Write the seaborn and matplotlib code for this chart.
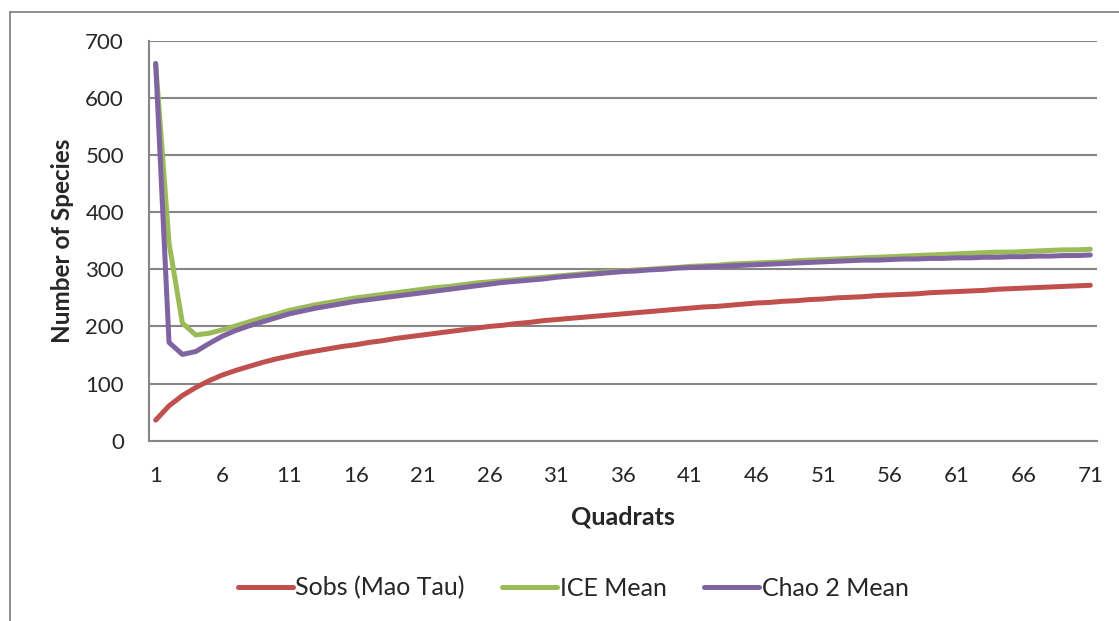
import pandas as pd
import seaborn as sns
import matplotlib.pyplot as plt
from matplotlib.lines import Line2D

# datos
quadrats = list(range(1, 72))

sobs = [36, 61, 79, 93, 105, 115, 123, 130, 137, 143, 148, 153, 157, 161, 165, 168,
        172, 175, 179, 182, 185, 188, 191, 194, 197, 200, 202, 205, 207, 210, 212,
        214, 216, 218, 220, 222, 224, 226, 228, 230, 232, 234, 235, 237, 239, 241,
        242, 244, 245, 247, 248, 250, 251, 252, 254, 255, 256, 257, 259, 260, 261,
        262, 263, 265, 266, 267, 268, 269, 270, 271, 272]

ice = [660, 346, 206, 185, 188, 194, 201, 208, 215, 221, 228, 233, 238, 242, 246, 250,
       253, 256, 259, 262, 265, 268, 270, 273, 276, 278, 280, 282, 284, 286, 288,
       290, 292, 294, 296, 297, 299, 300, 302, 303, 305, 306, 307, 309, 310, 311,
       312, 313, 315, 316, 317, 318, 319, 320, 321, 322, 323, 324, 325, 326, 327,
       328, 329, 330, 330, 331, 332, 333, 334, 334, 335]

chao = [660, 172, 151, 156, 170, 183, 193, 201, 208, 215, 222, 227, 232, 236, 240, 244,
        247, 250, 253, 256, 259, 262, 265, 268, 271, 274, 277, 279, 281, 283, 286,
        288, 290, 292, 294, 296, 297, 299, 300, 302, 303, 304, 305, 306, 307, 308,
        309, 310, 311, 312, 313, 314, 315, 316, 316, 317, 318, 318, 319, 319, 320,
        320, 321, 321, 322, 322, 323, 323, 324, 324, 325]

series = ['Sobs (Mao Tau)', 'ICE Mean', 'Chao 2 Mean']
colores = ['#C0504D', '#9BBB59', '#8064A2']
xticks = list(range(1, 72, 5))
yticks = list(range(0, 701, 100))

df = pd.DataFrame({
    'Quadrats': quadrats * 3,
    'Species': sobs + ice + chao,
    'Serie': [series[0]] * 71 + [series[1]] * 71 + [series[2]] * 71,
})

sns.set_style('white')
plt.rcParams['font.family'] = ['Lato', 'DejaVu Sans']

fig = plt.figure(figsize=(11.19, 6.21), dpi=100)
ax = fig.add_axes([149 / 1119, 1 - 440.7 / 621, (1097 - 149) / 1119, 400 / 621])

sns.lineplot(data=df, x='Quadrats', y='Species', hue='Serie', hue_order=series,
             palette=colores, linewidth=3.6, ax=ax, legend=False,
             solid_capstyle='round')

gris = '#868686'
ax.set_xlim(0.5, 71.5)
ax.set_ylim(0, 700)
ax.set_xticks(xticks)
ax.set_yticks(yticks)
ax.yaxis.grid(True, color=gris, linewidth=1.5)
ax.set_axisbelow(True)
for s in ['top', 'right']:
    ax.spines[s].set_visible(False)
for s in ['left', 'bottom']:
    ax.spines[s].set_color(gris)
    ax.spines[s].set_linewidth(1.5)
ax.tick_params(axis='y', length=5, width=1.5, color=gris, pad=13, labelsize=16)
ax.tick_params(axis='x', length=0, pad=18, labelsize=16)

ax.set_xlabel('Quadrats', fontsize=18, fontweight='bold', labelpad=14)
ax.set_ylabel('Number of Species', fontsize=17.5, fontweight='bold', labelpad=8)

# leyenda
handles = [Line2D([], [], color=c, linewidth=3.6, solid_capstyle='round') for c in colores]
fig.legend(handles, series, loc='center', bbox_to_anchor=(573 / 1119, 1 - 588 / 621),
           ncol=3, frameon=False, fontsize=18, handlelength=2.2, handletextpad=0.1,
           columnspacing=1.5)

# borde exterior del area del grafico
x0 = 10 / 1119
y0 = 1 - 12 / 621
fig.add_artist(Line2D([x0, x0], [0, y0], transform=fig.transFigure, color=gris, linewidth=1.3))
fig.add_artist(Line2D([x0, 1], [y0, y0], transform=fig.transFigure, color=gris, linewidth=1.3))

fig.savefig('out.png', dpi=100)
